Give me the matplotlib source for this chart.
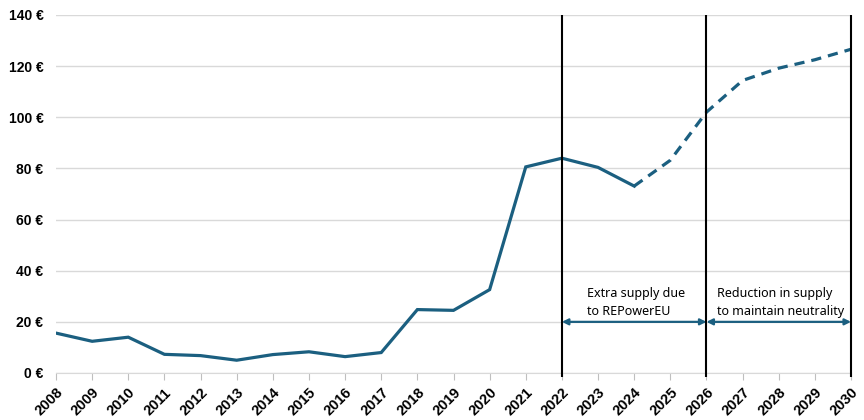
import matplotlib.pyplot as plt
import numpy as np

plt.rcParams['font.family'] = ['Liberation Sans', 'DejaVu Sans']

# data
years = list(range(2008, 2031))
price = [15.6, 12.4, 14.0, 7.3, 6.8, 5.0, 7.2, 8.3, 6.4, 8.0, 24.8, 24.5, 32.6,
         80.6, 84.0, 80.4, 73.1, 83.2, 102.0, 114.4, 119.2, 122.5, 126.6]
split_year = 2024
phase_edges = [2022, 2026, 2030]
phase_texts = ['Extra supply due\nto REPowerEU', 'Reduction in supply\nto maintain neutrality']

teal = '#1b5f80'

fig = plt.figure(figsize=(8.64, 4.2), dpi=100)
ax = fig.add_axes([56 / 864, 47 / 420, (851 - 56) / 864, (373 - 15) / 420])

yrs = np.array(years)
vals = np.array(price)
solid = yrs <= split_year
dash = yrs >= split_year
ax.plot(yrs[solid], vals[solid], color=teal, lw=2.3, solid_joinstyle='miter', zorder=3)
ax.plot(yrs[dash], vals[dash], color=teal, lw=2.3, ls=(0, (3.2, 2.2)), zorder=3)

# vertical phase markers
ax.vlines(phase_edges, -1.5, 140, colors='black', lw=1.5, clip_on=False, zorder=4)

# double arrows for the two phases
for a, b in zip(phase_edges[:-1], phase_edges[1:]):
    ax.annotate('', xy=(b, 20), xytext=(a, 20),
                arrowprops=dict(arrowstyle='<|-|>', color=teal, lw=1.6,
                                mutation_scale=9, shrinkA=0, shrinkB=0),
                zorder=5)

txt_font = ['Noto Sans', 'DejaVu Sans']
ax.text(2022.7, 33.5, phase_texts[0], fontsize=9, family=txt_font,
        va='top', ha='left', linespacing=1.45)
ax.text(2026.3, 33.5, phase_texts[1], fontsize=9, family=txt_font,
        va='top', ha='left', linespacing=1.45)

ax.set_xlim(2008, 2030)
ax.set_ylim(0, 140)
ax.set_yticks(range(0, 141, 20))
ax.set_yticklabels([f'{v} €' for v in range(0, 141, 20)], fontsize=10, fontweight='bold')
ax.set_xticks(years)
ax.set_xticklabels([str(y) for y in years], rotation=45, ha='right',
                   rotation_mode='anchor', fontsize=10.5, fontweight='bold')
ax.tick_params(axis='y', length=0, pad=9)
ax.tick_params(axis='x', length=5, color='#bfbfbf', pad=4)

ax.grid(axis='y', color='#d9d9d9', lw=1)
ax.set_axisbelow(True)
for s in ['top', 'right', 'left']:
    ax.spines[s].set_visible(False)
ax.spines['bottom'].set_color('#d9d9d9')

fig.savefig('out.png', dpi=100)
